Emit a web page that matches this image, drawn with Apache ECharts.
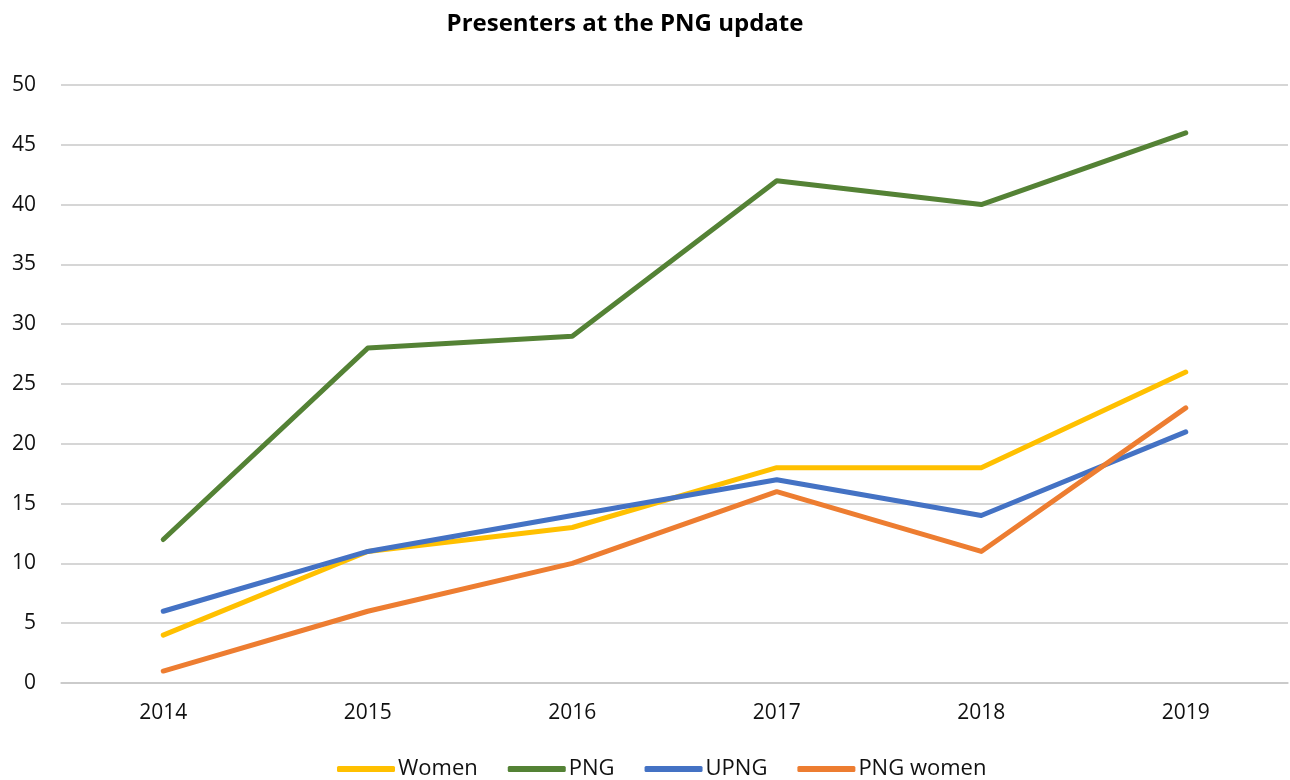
<!DOCTYPE html>
<html>
<head>
<meta charset="utf-8">
<title>Presenters at the PNG update</title>
<script src="https://cdn.jsdelivr.net/npm/echarts@6/dist/echarts.min.js"></script>
<style>
  html, body { margin: 0; padding: 0; background: #fff; }
  #chart { width: 1290px; height: 780px; }
</style>
</head>
<body>
<div id="chart"></div>
<script>
const years = ["2014", "2015", "2016", "2017", "2018", "2019"];
const women = [4, 11, 13, 18, 18, 26];
const png = [12, 28, 29, 42, 40, 46];
const upng = [6, 11, 14, 17, 14, 21];
const pngWomen = [1, 6, 10, 16, 11, 23];

const chart = echarts.init(document.getElementById("chart"));

const lineSeries = (name, data, color) => ({
    name,
    type: "line",
    data,
    symbol: "none",
    lineStyle: { width: 5, color, cap: "round", join: "round" },
    itemStyle: { color }
});

chart.setOption({
    animation: false,
    textStyle: { fontFamily: "Open Sans" },
    title: {
        text: "Presenters at the PNG update",
        left: 620,
        textAlign: "center",
        top: 7,
        textStyle: { fontSize: 24, fontWeight: "bold", color: "#000", fontFamily: "Open Sans" }
    },
    legend: {
        bottom: -5,
        left: 332,
        icon: "roundRect",
        itemWidth: 58,
        itemHeight: 6,
        itemGap: 30,
        textStyle: { fontSize: 22, color: "#111", padding: [0, 0, 0, -2] },
        data: ["Women", "PNG", "UPNG", "PNG women"]
    },
    grid: { left: 61, right: 2, top: 85, bottom: 97, containLabel: false },
    xAxis: {
        type: "category",
        data: years,
        boundaryGap: true,
        axisLine: { lineStyle: { color: "#c8c8c8", width: 1.5 } },
        axisTick: { show: false },
        axisLabel: { fontSize: 21, color: "#111", margin: 20 }
    },
    yAxis: {
        type: "value",
        min: 0,
        max: 50,
        interval: 5,
        axisLine: { show: false },
        axisTick: { show: false },
        splitLine: { lineStyle: { color: "#c8c8c8", width: 1.5 } },
        axisLabel: { fontSize: 21, color: "#111", margin: 25 }
    },
    series: [
        lineSeries("Women", women, "#FFC000"),
        lineSeries("PNG", png, "#548235"),
        lineSeries("UPNG", upng, "#4472C4"),
        lineSeries("PNG women", pngWomen, "#ED7D31")
    ]
});
</script>
</body>
</html>
